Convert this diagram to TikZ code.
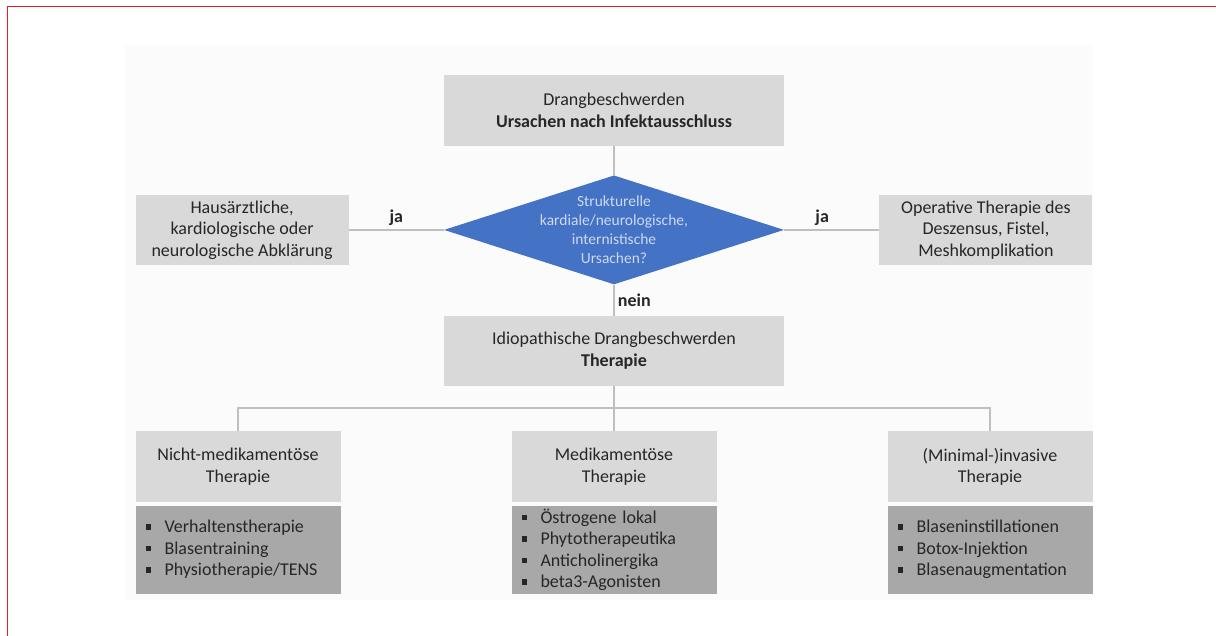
\documentclass[tikz,border=0pt]{standalone}
\usepackage{fontspec}
\setmainfont{Carlito}
\usetikzlibrary{positioning,shapes.geometric}

\definecolor{boxgrau}{RGB}{217,217,217}
\definecolor{listgrau}{RGB}{168,168,168}
\definecolor{rautenblau}{RGB}{68,114,196}
\definecolor{rautentext}{RGB}{205,217,240}
\definecolor{liniengrau}{RGB}{191,191,191}
\definecolor{rahmenrot}{RGB}{227,30,36}
\definecolor{hintergrund}{RGB}{251,251,251}

\newcommand{\qpunkt}{\rule[3pt]{5.5pt}{5.5pt}\hspace{13.5pt}}

\begin{document}
\begin{tikzpicture}[
    x=1pt, y=-1pt,
    node distance=29pt and 95pt,
    font=\fontsize{18}{21.5}\selectfont, text=black!85,
    box/.style={rectangle, fill=boxgrau, align=center, minimum width=340pt, minimum height=70pt, inner sep=2pt},
    decision/.style={diamond, fill=rautenblau, text=rautentext, align=center, minimum width=340pt, minimum height=109pt, shape aspect=3.1, inner xsep=-20pt, inner ysep=-15pt, font=\fontsize{15.5}{19}\selectfont},
    side/.style={box, minimum width=213pt},
    head/.style={box, minimum width=205pt, minimum height=71pt},
    liste/.style={rectangle, fill=listgrau, minimum height=88pt, text width=185pt, align=left, inner xsep=10pt, inner ysep=2pt},
    line/.style={draw=liniengrau, line width=1.3pt},
    lab/.style={font=\fontsize{18}{20}\selectfont\bfseries}
]
\useasboundingbox (0,0) rectangle (1216,636);
\draw[rahmenrot, line width=1.6pt] (7.5,636) -- (7.5,6.5) -- (1216,6.5);
\fill[hintergrund] (125,45) rectangle (1093,600);

% URSACHEN
\node[box, minimum height=71pt] (A) at (614,110.5) {Drangbeschwerden\\\textbf{Ursachen nach Infektausschluss}};
\node[decision, below=of A] (D) {Strukturelle\\kardiale/neurologische,\\internistische\\Ursachen?};
\node[side, left=of D] (L) {Hausärztliche,\\kardiologische oder\\neurologische Abklärung};
\node[side, right=of D] (R) {Operative Therapie des\\Deszensus, Fistel,\\Meshkomplikation};
\node[box, below=31pt of D] (M) {Idiopathische Drangbeschwerden\\\textbf{Therapie}};

% THERAPIE
\coordinate[below=22pt of M] (B);
\node[head, below=45pt of M] (H2) {Medikamentöse\\Therapie};
\node[head, below=45pt of M, xshift=-376pt] (H1) {Nicht-medikamentöse\\Therapie};
\node[head, below=45pt of M, xshift=376pt] (H3) {(Minimal-)invasive\\Therapie};
\node[liste, below=3pt of H1] (T1) {\qpunkt Verhaltenstherapie\\\qpunkt Blasentraining\\\qpunkt Physiotherapie/TENS};
\node[liste, below=3pt of H2] (T2) {\qpunkt Östrogene lokal\\\qpunkt Phytotherapeutika\\\qpunkt Anticholinergika\\\qpunkt beta3-Agonisten};
\node[liste, below=3pt of H3] (T3) {\qpunkt Blaseninstillationen\\\qpunkt Botox-Injektion\\\qpunkt Blasenaugmentation};

% Verbindungen
\draw[line] (A) -- (D);
\draw[line] (D) -- node[lab, above] {ja} (L);
\draw[line] (D) -- node[lab, above, pos=0.4] {ja} (R);
\draw[line] (D) -- node[lab, right] {nein} (M);
\draw[line] (M) -- (H2);
\draw[line] (B) -| (H1);
\draw[line] (B) -| (H3);

\end{tikzpicture}
\end{document}
